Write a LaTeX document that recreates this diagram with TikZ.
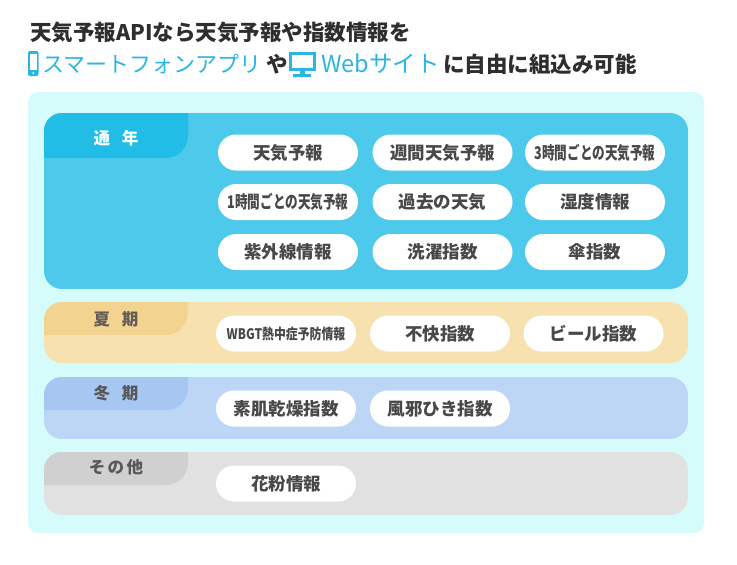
\documentclass[tikz,border=0pt]{standalone}
\usepackage{fontspec}
\usepackage{graphicx}
\setmainfont{Noto Sans CJK JP}

\definecolor{bgpanel}{HTML}{D5FBFB}
\definecolor{yearbox}{HTML}{4DC9EB}
\definecolor{yeartab}{HTML}{22BDE6}
\definecolor{summerbox}{HTML}{F7E2AF}
\definecolor{summertab}{HTML}{F2D390}
\definecolor{winterbox}{HTML}{BDD6F6}
\definecolor{wintertab}{HTML}{A7C7F3}
\definecolor{otherbox}{HTML}{E1E1E1}
\definecolor{othertab}{HTML}{D0D0D0}
\definecolor{linkcyan}{HTML}{2CB5E2}
\definecolor{pilltext}{HTML}{484848}
\definecolor{labeltext}{HTML}{585858}
\definecolor{headtext}{HTML}{2E2E2E}

\tikzset{
  pill/.style={fill=white, rounded corners=18pt, minimum width=140pt, minimum height=36pt,
    inner sep=0pt, text=pilltext, font=\fontsize{17.5}{18}\selectfont\bfseries},
  tablabel/.style={inner sep=0pt, text=labeltext, font=\fontsize{16.5}{17}\selectfont\bfseries},
  headline/.style={anchor=west, inner sep=0pt, text=headtext, font=\fontsize{21.5}{22}\selectfont\bfseries},
  linktext/.style={headline, text=linkcyan, font=\fontsize{22}{22}\selectfont},
}

\begin{document}
\begin{tikzpicture}[x=1pt, y=-1pt]
\useasboundingbox (0,0) rectangle (737,565);

% Headline
\node[headline] (line1) at (30,32) {天気予報APIなら天気予報や指数情報を};
% phone icon
\fill[linkcyan, rounded corners=2] (28,51) rectangle (38.5,76);
\fill[white] (30,54) rectangle (36.5,70);
\fill[white] (33.25,73) circle (1);
\node[linktext] (smartapp) at (42,64) {スマートフォンアプリ};
\node[headline] (ya) at (266,64) {や};
% monitor icon
\draw[linkcyan, line width=3] (290.5,53.5) rectangle (314,69.5);
\fill[linkcyan] (300,70) rectangle (305,74);
\fill[linkcyan] (293,74) rectangle (311,76.5);
\node[linktext, font=\fontsize{23.5}{23}\selectfont] (website) at (321,64) {Webサイト};
\node[headline] (freely) at (443,64) {に自由に組込み可能};

% Panel
\fill[bgpanel, rounded corners=10] (28,92) rectangle (704,533);

% Year-round
\begin{scope}
\clip[rounded corners=18] (44,113) rectangle (688,289);
\fill[yearbox] (44,113) rectangle (688,289);
\fill[yeartab, rounded corners=22] (-20,60) rectangle (188,158);
\end{scope}
\node[tablabel, text=white] (yearlabel) at (116,138) {通\hspace{0.7em}年};
\node[pill] (tenki) at (288,152.5) {天気予報};
\node[pill] (shukan) at (442.5,152.5) {週間天気予報};
\node[pill] (sanjikan) at (595,152.5) {\scalebox{0.72}[1]{3時間ごとの天気予報}};
\node[pill] (ichijikan) at (288,202) {\scalebox{0.72}[1]{1時間ごとの天気予報}};
\node[pill] (kako) at (442.5,202) {過去の天気};
\node[pill] (shitsudo) at (595,202) {湿度情報};
\node[pill] (shigaisen) at (288,252) {紫外線情報};
\node[pill] (sentaku) at (442.5,252) {洗濯指数};
\node[pill] (kasa) at (595,252) {傘指数};

% Summer
\begin{scope}
\clip[rounded corners=18] (44,302) rectangle (688,363);
\fill[summerbox] (44,302) rectangle (688,363);
\fill[summertab, rounded corners=22] (-20,250) rectangle (188,335);
\end{scope}
\node[tablabel, text=labeltext!90!brown] (summerlabel) at (116,319) {夏\hspace{0.7em}期};
\node[pill, font=\fontsize{14.5}{14}\selectfont\bfseries] (wbgt) at (286,333.5) {\scalebox{0.82}[1]{WBGT熱中症予防情報}};
\node[pill] (fukai) at (440,333.5) {不快指数};
\node[pill] (beer) at (593.5,333.5) {ビール指数};

% Winter
\begin{scope}
\clip[rounded corners=18] (44,377) rectangle (688,439);
\fill[winterbox] (44,377) rectangle (688,439);
\fill[wintertab, rounded corners=22] (-20,330) rectangle (188,410);
\end{scope}
\node[tablabel] (winterlabel) at (116,393) {冬\hspace{0.7em}期};
\node[pill] (hadaka) at (286,408.5) {素肌乾燥指数};
\node[pill] (kaze) at (440,408.5) {風邪ひき指数};

% Other
\begin{scope}
\clip[rounded corners=18] (44,452) rectangle (688,515);
\fill[otherbox] (44,452) rectangle (688,515);
\fill[othertab, rounded corners=22] (-20,400) rectangle (188,485);
\end{scope}
\node[tablabel] (otherlabel) at (116,467) {そ\hspace{0.15em}の\hspace{0.15em}他};
\node[pill] (kafun) at (286,483.5) {花粉情報};
\end{tikzpicture}
\end{document}
